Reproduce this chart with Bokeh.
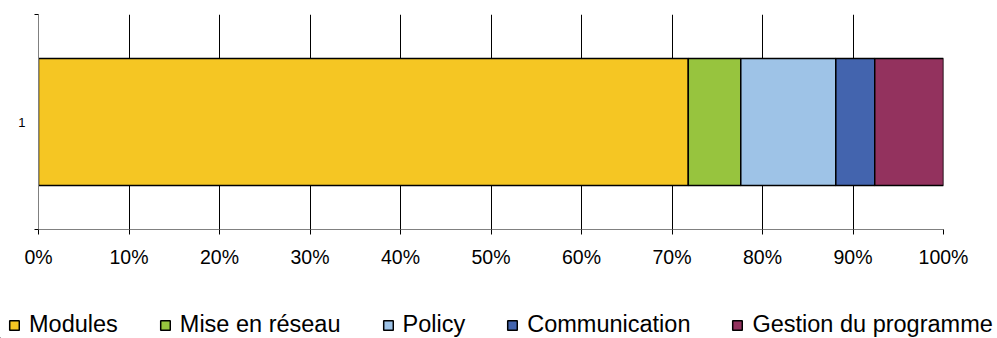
from bokeh.plotting import figure
from bokeh.models import (ColumnDataSource, Range1d, FixedTicker, NumeralTickFormatter,
                          Legend, LegendItem)
from bokeh.layouts import column, row
from bokeh.embed import file_html
from bokeh.resources import INLINE

category = ["1"]
series = ["Modules", "Mise en réseau", "Policy", "Communication", "Gestion du programme"]
values = [0.718, 0.058, 0.105, 0.043, 0.076]
colors = ["#F5C623", "#97C43E", "#9EC3E7", "#4364AE", "#93325E"]
x_ticks = [0.0, 0.1, 0.2, 0.3, 0.4, 0.5, 0.6, 0.7, 0.8, 0.9, 1.0]

keys = ["s%d" % i for i in range(len(series))]
data = {"y": [0.5]}
for k, v in zip(keys, values):
    data[k] = [v]
source = ColumnDataSource(data)

p = figure(width=997, height=270, output_backend="svg", toolbar_location=None,
           x_range=Range1d(0, 1), y_range=Range1d(0, 1),
           min_border_left=38, min_border_right=54, min_border_top=14, min_border_bottom=41)
p.outline_line_color = None
p.background_fill_color = "white"
p.border_fill_color = "white"

renderers = p.hbar_stack(keys, y="y", height=0.59, source=source, fill_color=colors,
                         line_color="black", line_width=1.5)

# x axis
xa = p.xaxis[0]
xa.ticker = FixedTicker(ticks=x_ticks, minor_ticks=[])
xa.formatter = NumeralTickFormatter(format="0%")
xa.axis_line_color = "#808080"
xa.major_tick_line_color = "black"
xa.major_tick_out = 5
xa.major_tick_in = 0
xa.major_label_text_font = "Liberation Sans"
xa.major_label_text_font_size = "19.5px"
xa.major_label_text_color = "black"
xa.major_label_standoff = 11

# y axis
ya = p.yaxis[0]
ya.ticker = FixedTicker(ticks=[0.5], minor_ticks=[0, 1])
ya.major_label_overrides = {0.5: category[0]}
ya.axis_line_color = "#808080"
ya.major_tick_out = 0
ya.major_tick_in = 0
ya.minor_tick_out = 4
ya.minor_tick_in = 0
ya.minor_tick_line_color = "black"
ya.major_label_text_font = "Liberation Sans"
ya.major_label_text_font_size = "13px"
ya.major_label_text_color = "black"
ya.major_label_standoff = 9

p.xgrid.grid_line_color = "black"
p.xgrid.grid_line_width = 1
p.ygrid.grid_line_color = None

# legend strip (separate figure so the legend can span the full width)
lg = figure(width=997, height=68, output_backend="svg", toolbar_location=None,
            x_range=Range1d(2, 3), y_range=Range1d(2, 3),
            x_axis_type=None, y_axis_type=None, min_border=0)
lg.outline_line_color = None
lg.xgrid.grid_line_color = None
lg.ygrid.grid_line_color = None
lg_renderers = lg.hbar_stack(keys, y="y", height=0.59, source=source, fill_color=colors,
                             line_color="black", line_width=1.5)

items = [LegendItem(label=s, renderers=[r]) for s, r in zip(series, lg_renderers)]
legend = Legend(items=items, orientation="horizontal", location=(8, 0),
                label_text_font="Liberation Sans", label_text_font_size="23.5px",
                label_text_color="black", glyph_width=12, glyph_height=12,
                label_standoff=9, spacing=41, padding=0, margin=0,
                border_line_color=None, background_fill_alpha=0,
                label_height=12)
lg.add_layout(legend, "center")

layout = column(row(p), row(lg), spacing=0)
open("out.html", "w").write(file_html(layout, INLINE))
